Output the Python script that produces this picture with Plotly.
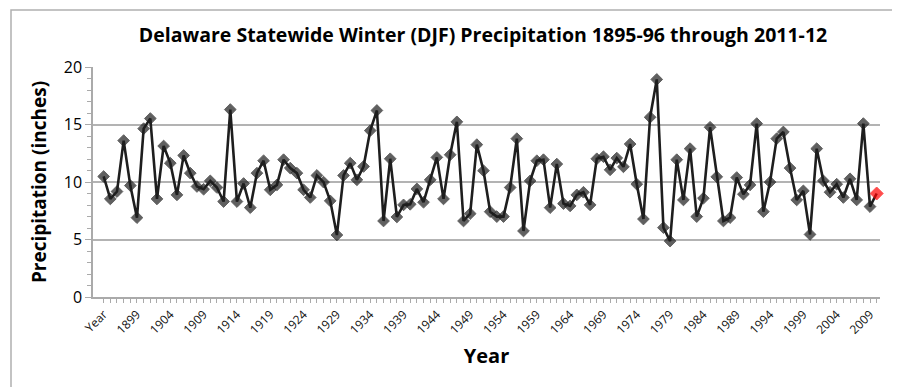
import plotly.graph_objects as go

# Categories as labelled in the source sheet (first cell is the header "Year")
first_label = "Year"
years = [str(y) for y in range(1895, 2011)]
categories = [first_label] + years

precip = [
    10.48, 8.53, 9.17, 13.6, 9.69, 6.90, 14.64, 15.52, 8.53, 13.13,
    11.64, 8.88, 12.31, 10.77, 9.61, 9.37, 10.10, 9.52, 8.30, 16.30,
    8.30, 9.87, 7.77, 10.77, 11.85, 9.32, 9.75, 11.94, 11.21, 10.77,
    9.32, 8.65, 10.57, 9.99, 8.36, 5.39, 10.57, 11.64, 10.19, 11.35,
    14.47, 16.22, 6.61, 12.02, 6.96, 8.01, 8.06, 9.40, 8.24, 10.19,
    12.14, 8.53, 12.37, 15.23, 6.61, 7.25, 13.25, 10.98, 7.42, 6.99,
    6.99, 9.52, 13.77, 5.74, 10.10, 11.85, 11.94, 7.77, 11.56, 8.12,
    7.92, 8.88, 9.11, 8.01, 12.02, 12.20, 11.06, 12.08, 11.32, 13.30,
    9.81, 6.78, 15.63, 18.92, 6.03, 4.86, 11.94, 8.44, 12.90, 6.99,
    8.59, 14.76, 10.45, 6.61, 6.90, 10.39, 8.94, 9.75, 15.08, 7.42,
    9.99, 13.77, 14.35, 11.21, 8.44, 9.23, 5.44, 12.90, 10.10, 9.11,
    9.81, 8.65, 10.28, 8.44, 15.08, 7.86, 9.00,
]

title_text = "Delaware Statewide Winter (DJF) Precipitation 1895-96 through 2011-12"
x_title = "Year"
y_title = "Precipitation (inches)"
y_ticks = [0, 5, 10, 15, 20]

tick_labels = [c if i % 5 == 0 else "" for i, c in enumerate(categories)]
marker_colors = ["#1e1e1e"] * (len(precip) - 1) + ["#ff0000"]
marker_sizes = [9] * (len(precip) - 1) + [10]

fig = go.Figure()
fig.add_trace(go.Scatter(
    x=categories, y=precip, mode="lines+markers",
    line=dict(color="#1e1e1e", width=2.6),
    marker=dict(symbol="diamond", size=marker_sizes, color=marker_colors,
                line=dict(width=1, color=marker_colors)),
    showlegend=False, cliponaxis=False,
))

L, R, T, B = 85, 28, 59, 98
W, H = 900, 387
pw, ph = W - L - R, H - T - B

fig.update_layout(
    width=W, height=H,
    margin=dict(l=L, r=R, t=T, b=B),
    paper_bgcolor="white", plot_bgcolor="white",
    font=dict(family="Open Sans, Liberation Sans, sans-serif", color="black"),
    title=dict(text="<b>" + title_text + "</b>", x=475 / W, xanchor="center",
               y=1 - 27 / H, yanchor="middle", font=dict(size=19.5, color="black")),
    xaxis=dict(
        type="category", categoryorder="array", categoryarray=categories,
        range=[-1.6, len(categories) - 0.5],
        tickmode="array", tickvals=categories, ticktext=tick_labels,
        tickangle=-45, tickfont=dict(size=12, color="#111111"),
        ticks="outside", ticklen=4, tickcolor="#aaaaaa", tickwidth=1,
        showline=True, linecolor="#aaaaaa", linewidth=1.5,
        showgrid=False, zeroline=False,
        title=dict(text="<b>" + x_title + "</b>", font=dict(size=20), standoff=12),
    ),
    yaxis=dict(
        range=[0, 20], tickmode="array", tickvals=y_ticks,
        tickfont=dict(size=16, color="black"),
        ticks="outside", ticklen=6, tickcolor="#aaaaaa", tickwidth=1,
        showline=True, linecolor="#aaaaaa", linewidth=1.5,
        showgrid=True, gridcolor="#b3b3b3", gridwidth=1.5,
        zeroline=False,
        minor=dict(dtick=1, ticks="outside", ticklen=4, tickcolor="#aaaaaa", showgrid=False),
        title=dict(text="<b>" + y_title + "</b>", font=dict(size=19), standoff=12),
    ),
    shapes=[dict(
        type="rect", xref="paper", yref="paper",
        x0=(3 - L) / pw, x1=(W - 4 - L) / pw,
        y0=-(H - 2 - T - ph) / ph, y1=1 + (T - 2) / ph,
        line=dict(color="#b0b0b0", width=1.5), fillcolor="rgba(0,0,0,0)",
        layer="below",
    )],
)

fig.write_html("out.html")
